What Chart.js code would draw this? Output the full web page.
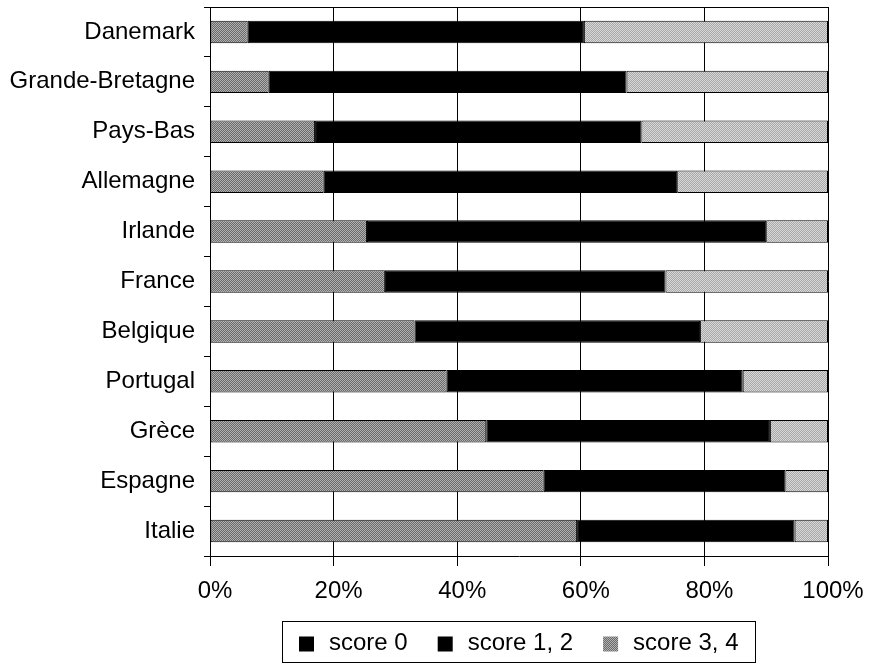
<!DOCTYPE html>
<html>
<head>
<meta charset="utf-8">
<title>Scores par pays</title>
<script src="https://cdn.jsdelivr.net/npm/chart.js@4.4.1/dist/chart.umd.min.js"></script>
<style>
  html, body { margin: 0; padding: 0; background: #fff; }
  #wrap { position: relative; width: 870px; height: 670px; }
</style>
</head>
<body>
<div id="wrap"><canvas id="chart" width="870" height="670"></canvas></div>
<script>
// Pays, du haut vers le bas
const pays = ["Danemark", "Grande-Bretagne", "Pays-Bas", "Allemagne", "Irlande", "France",
              "Belgique", "Portugal", "Grèce", "Espagne", "Italie"];

// Parts (%) de chaque classe de score, empilées de gauche à droite
const score34 = [6.1, 9.5, 17.0, 18.4, 25.4, 28.3, 33.1, 38.3, 44.7, 54.0, 59.4];
const score12 = [54.4, 57.9, 52.8, 57.2, 64.6, 45.4, 46.2, 47.9, 45.9, 39.1, 35.2];
const score0  = [39.5, 32.6, 30.2, 24.4, 10.0, 26.3, 20.7, 13.8, 9.4, 6.9, 5.4];

// Graduations de l'axe horizontal
const ticksPct = [0, 20, 40, 60, 80, 100];

// Ordre de la légende
const legendeLabels = ["score 0", "score 1, 2", "score 3, 4"];

const FONT = "'Liberation Sans', Arial, Helvetica, sans-serif";

// Trame pointillée (damier 2x2) pour les remplissages gris
function trame(c1, c2) {
  const p = document.createElement('canvas');
  p.width = 2; p.height = 2;
  const g = p.getContext('2d');
  g.fillStyle = c1; g.fillRect(0, 0, 2, 2);
  g.fillStyle = c2; g.fillRect(0, 0, 1, 1); g.fillRect(1, 1, 1, 1);
  return g.createPattern(p, 'repeat');
}
const grisFonce = trame('#6a6a6a', '#b0b0b0');
const grisClair = trame('#a8a8a8', '#d8d8d8');

// Cadre supérieur de la zone de tracé
const topFrame = {
  id: 'topFrame',
  afterDraw(chart) {
    const { ctx, chartArea: a } = chart;
    ctx.save();
    ctx.strokeStyle = '#000';
    ctx.lineWidth = 1;
    ctx.beginPath();
    ctx.moveTo(a.left, Math.round(a.top) + 0.5);
    ctx.lineTo(a.right, Math.round(a.top) + 0.5);
    ctx.stroke();
    ctx.restore();
  }
};

// Légende encadrée sous le graphique
const boxedLegend = {
  id: 'boxedLegend',
  afterDraw(chart, args, opts) {
    const { ctx, chartArea: a } = chart;
    ctx.save();
    ctx.font = '24px ' + FONT;
    const sw = 15, gap = 15, space = 30, pad = 17;
    const widths = legendeLabels.map(t => ctx.measureText(t).width);
    let total = pad * 2;
    widths.forEach((w, i) => { total += sw + gap + w + (i < widths.length - 1 ? space : 0); });
    const left = Math.round((a.left + a.right) / 2 - total / 2);
    const top = 621, h = 41;
    ctx.strokeStyle = '#000';
    ctx.lineWidth = 1;
    ctx.strokeRect(left + 0.5, top + 0.5, Math.round(total), h);
    let x = left + pad;
    const cy = top + 22;
    ctx.textBaseline = 'middle';
    ctx.textAlign = 'left';
    legendeLabels.forEach((t, i) => {
      ctx.fillStyle = opts.swatches[i];
      ctx.fillRect(x, cy - sw / 2 + 1, sw, sw);
      ctx.fillStyle = '#000';
      ctx.fillText(t, x + sw + gap, cy);
      x += sw + gap + widths[i] + space;
    });
    ctx.restore();
  }
};

const barStyle = { borderColor: '#000', borderWidth: 1, borderSkipped: false,
                   barPercentage: 0.45, categoryPercentage: 1.0 };

new Chart(document.getElementById('chart'), {
  type: 'bar',
  data: {
    labels: pays,
    datasets: [
      Object.assign({ label: 'score 3, 4', data: score34, backgroundColor: grisFonce }, barStyle),
      Object.assign({ label: 'score 1, 2', data: score12, backgroundColor: '#000000' }, barStyle),
      Object.assign({ label: 'score 0',    data: score0,  backgroundColor: grisClair }, barStyle)
    ]
  },
  options: {
    indexAxis: 'y',
    responsive: false,
    animation: false,
    devicePixelRatio: 1,
    layout: { padding: { top: 7, right: 42, left: 0, bottom: 0 } },
    plugins: {
      legend: { display: false },
      tooltip: { enabled: false },
      boxedLegend: { swatches: ['#000000', '#000000', grisFonce] }
    },
    scales: {
      x: {
        stacked: true,
        min: 0,
        max: 100,
        afterBuildTicks(scale) { scale.ticks = ticksPct.map(v => ({ value: v })); },
        afterFit(scale) {
          scale.height = 114;
          scale.paddingLeft = 0;
          scale.paddingRight = 0;
        },
        ticks: {
          color: '#000',
          font: { family: FONT, size: 24 },
          padding: 11,
          labelOffset: 5,
          maxRotation: 0,
          callback: v => v + '%'
        },
        grid: { color: '#000', lineWidth: 1, drawTicks: true, tickLength: 10 },
        border: { display: true, color: '#000', width: 1 }
      },
      y: {
        stacked: true,
        afterFit(scale) {
          scale.width = 210;
          scale.paddingTop = 0;
          scale.paddingBottom = 0;
        },
        ticks: {
          color: '#000',
          font: { family: FONT, size: 24 },
          padding: 9
        },
        grid: { offset: true, drawOnChartArea: false, drawTicks: true, tickLength: 6, color: '#000' },
        border: { display: true, color: '#000', width: 1 }
      }
    }
  },
  plugins: [topFrame, boxedLegend]
});
</script>
</body>
</html>
